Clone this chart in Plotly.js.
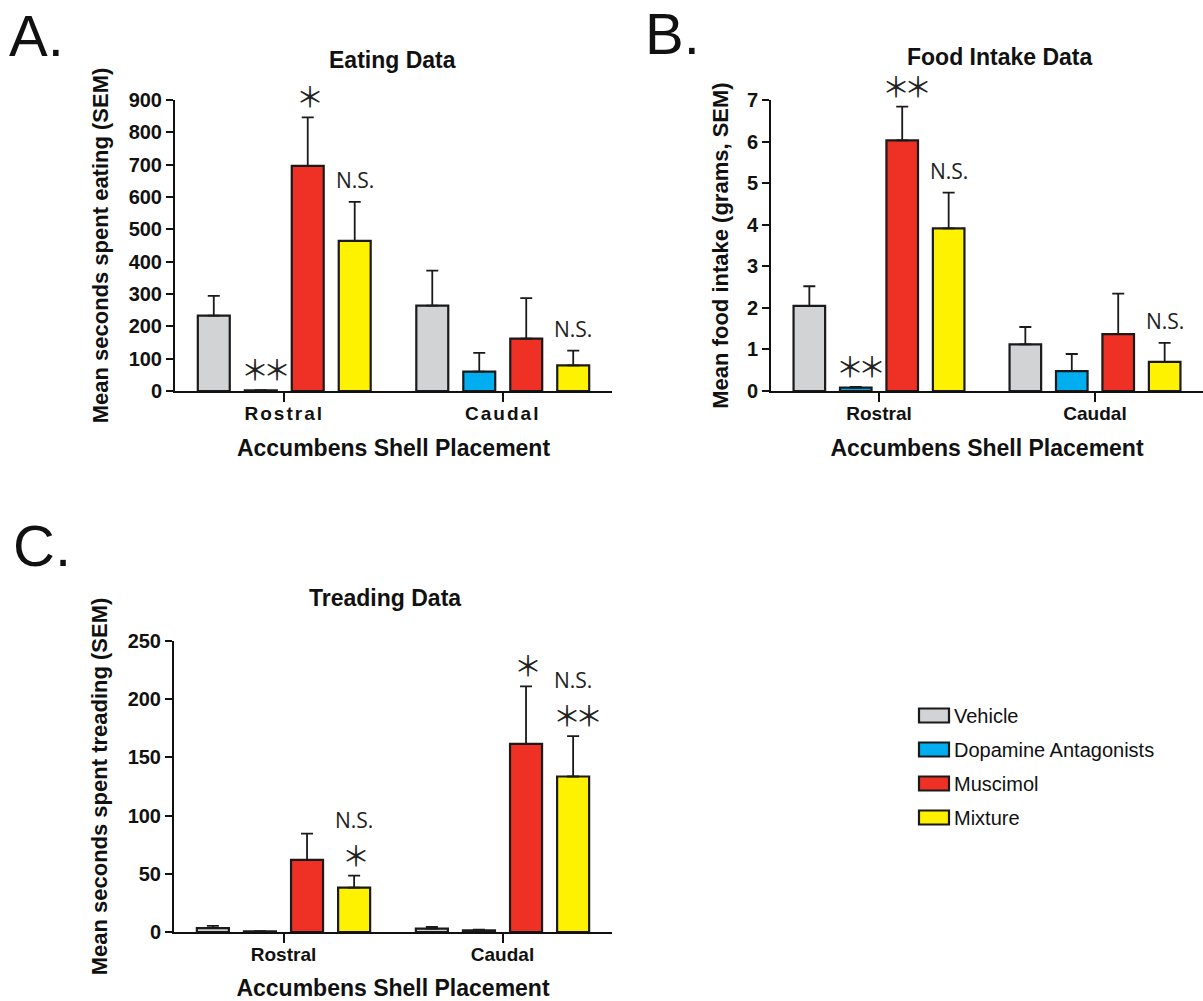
<!DOCTYPE html>
<html>
<head>
<meta charset="utf-8">
<script src="https://cdn.plot.ly/plotly-3.0.1.min.js"></script>
<style>
  html, body { margin: 0; padding: 0; background: #fff; }
  #chart { width: 1203px; height: 1001px; }
  .xtick text { letter-spacing: 2px; }
</style>
</head>
<body>
<div id="chart"></div>
<script>
// ---------------- DATA ----------------
const categories = ['Rostral', 'Caudal'];
const seriesNames = ['Vehicle', 'Dopamine Antagonists', 'Muscimol', 'Mixture'];

// Panel A: Eating Data (mean seconds, SEM)
const eatVehicle = [233, 264];
const eatVehicleSem = [61, 108];
const eatDopamine = [2, 60];
const eatDopamineSem = [1, 58];
const eatMuscimol = [696, 162];
const eatMuscimolSem = [150, 125];
const eatMixture = [464, 79];
const eatMixtureSem = [121, 46];

// Panel B: Food Intake Data (grams, SEM)
const foodVehicle = [2.05, 1.12];
const foodVehicleSem = [0.47, 0.42];
const foodDopamine = [0.08, 0.48];
const foodDopamineSem = [0.02, 0.41];
const foodMuscimol = [6.03, 1.37];
const foodMuscimolSem = [0.81, 0.97];
const foodMixture = [3.91, 0.70];
const foodMixtureSem = [0.86, 0.46];

// Panel C: Treading Data (mean seconds, SEM)
const treadVehicle = [3.4, 2.9];
const treadVehicleSem = [1.8, 1.4];
const treadDopamine = [0.6, 1.4];
const treadDopamineSem = [0.2, 0.6];
const treadMuscimol = [61.9, 161.7];
const treadMuscimolSem = [22.7, 49.3];
const treadMixture = [38.1, 133.6];
const treadMixtureSem = [10.4, 34.7];

// Significance labels: [category index, series index, text lines (top to bottom)]
const eatLabels = [[0, 1, ['**']], [0, 2, ['*']], [0, 3, ['N.S.']], [1, 3, ['N.S.']]];
const foodLabels = [[0, 1, ['**']], [0, 2, ['**']], [0, 3, ['N.S.']], [1, 3, ['N.S.']]];
const treadLabels = [[0, 3, ['N.S.', '*']], [1, 2, ['*']], [1, 3, ['N.S.', '**']]];

const yTicksA = [0, 100, 200, 300, 400, 500, 600, 700, 800, 900];
const yTicksB = [0, 1, 2, 3, 4, 5, 6, 7];
const yTicksC = [0, 50, 100, 150, 200, 250];

// ---------------- STYLE ----------------
const colors = ['#D1D3D4', '#00AEEF', '#EE3124', '#FFF200'];
const ARIAL = 'Arial, "Liberation Sans", sans-serif';
const BARGAP = 0.14;
const nSeries = seriesNames.length;
const slot = (1 - BARGAP) / nSeries;
const offsetOf = (s) => (s - (nSeries - 1) / 2) * slot;

const panels = [
  { means: [eatVehicle, eatDopamine, eatMuscimol, eatMixture],
    sems: [eatVehicleSem, eatDopamineSem, eatMuscimolSem, eatMixtureSem],
    labels: eatLabels, xa: 'x', ya: 'y' },
  { means: [foodVehicle, foodDopamine, foodMuscimol, foodMixture],
    sems: [foodVehicleSem, foodDopamineSem, foodMuscimolSem, foodMixtureSem],
    labels: foodLabels, xa: 'x2', ya: 'y2' },
  { means: [treadVehicle, treadDopamine, treadMuscimol, treadMixture],
    sems: [treadVehicleSem, treadDopamineSem, treadMuscimolSem, treadMixtureSem],
    labels: treadLabels, xa: 'x3', ya: 'y3' }
];

// star glyph: thin six-armed asterisk
const starText = (t) => t.replace(/\*/g, '＊');
const STAR_FONT = { family: '"Noto Sans CJK JP", sans-serif', size: 28, color: '#222' };
const NS_FONT = { family: '"Open Sans", sans-serif', size: 21, color: '#222' };
const STAR_SHIFT = 21;
const NS_SHIFT = 22;
const STACK_GAP = 35;

const traces = [];
const annotations = [];

panels.forEach((p, pi) => {
  p.means.forEach((vals, s) => {
    traces.push({
      type: 'bar',
      x: categories,
      y: vals,
      name: seriesNames[s],
      legendgroup: seriesNames[s],
      showlegend: pi === 0,
      xaxis: p.xa,
      yaxis: p.ya,
      marker: { color: colors[s], line: { color: '#1a1a1a', width: 2.2 } },
      error_y: {
        type: 'data', symmetric: false,
        array: p.sems[s],
        arrayminus: p.sems[s].map(() => 0),
        color: '#1a1a1a', thickness: 1.8, width: 6
      },
      hoverinfo: 'skip'
    });
  });
  p.labels.forEach(([c, s, lines]) => {
    const top = p.means[s][c] + p.sems[s][c];
    // lowest line sits just above the error bar; any upper line is stacked above it
    let shift = null;
    for (let li = lines.length - 1; li >= 0; li--) {
      const txt = lines[li];
      const isStar = txt.indexOf('*') >= 0;
      shift = (shift === null) ? (isStar ? STAR_SHIFT : NS_SHIFT) : shift + STACK_GAP;
      annotations.push({
        xref: p.xa, yref: p.ya, x: c + offsetOf(s), y: top,
        showarrow: false, xanchor: 'center', yanchor: 'middle',
        text: isStar ? '<span style="letter-spacing:-6px">' + starText(txt) + '</span>' : txt,
        xshift: isStar && txt.length > 1 ? 3 : 0,
        yshift: shift,
        font: isStar ? STAR_FONT : NS_FONT
      });
    }
  });
});

// Subplot titles and panel letters
const titleFont = { family: ARIAL, size: 23, color: '#111', weight: 'bold' };
annotations.push(
  { xref: 'paper', yref: 'paper', x: 392 / 1203, y: 1 - 60 / 1001, text: 'Eating Data', showarrow: false, xanchor: 'center', yanchor: 'middle', font: titleFont },
  { xref: 'paper', yref: 'paper', x: 1000 / 1203, y: 1 - 57 / 1001, text: 'Food Intake Data', showarrow: false, xanchor: 'center', yanchor: 'middle', font: titleFont },
  { xref: 'paper', yref: 'paper', x: 385 / 1203, y: 1 - 598 / 1001, text: 'Treading Data', showarrow: false, xanchor: 'center', yanchor: 'middle', font: titleFont }
);
const letterFont = { family: ARIAL, size: 58, color: '#111' };
annotations.push(
  { xref: 'paper', yref: 'paper', x: 8 / 1203, y: 1 - 2 / 1001, text: 'A.', showarrow: false, xanchor: 'left', yanchor: 'top', borderpad: 0, font: letterFont },
  { xref: 'paper', yref: 'paper', x: 644 / 1203, y: 1, text: 'B.', showarrow: false, xanchor: 'left', yanchor: 'top', borderpad: 0, font: letterFont },
  { xref: 'paper', yref: 'paper', x: 12 / 1203, y: 1 - 512 / 1001, text: 'C.', showarrow: false, xanchor: 'left', yanchor: 'top', borderpad: 0, font: letterFont }
);

const tickFont = { family: ARIAL, size: 20, color: '#111', weight: 'bold' };
const axTitleFont = { family: ARIAL, size: 23, color: '#111', weight: 'bold' };

function xAxis(domain, anchor) {
  return {
    domain: domain, anchor: anchor, type: 'category', range: [-0.5, 1.5],
    showline: true, linecolor: '#111', linewidth: 2,
    ticks: 'outside', ticklen: 9, tickwidth: 2, tickcolor: '#111',
    ticklabelstandoff: -5,
    tickfont: { family: ARIAL, size: 19, color: '#111', weight: 'bold' },
    showgrid: false, zeroline: false, fixedrange: true, automargin: false,
    title: { text: 'Accumbens Shell Placement', font: axTitleFont, standoff: 17 }
  };
}
function yAxis(domain, anchor, range, ticks, title, standoff) {
  return {
    domain: domain, anchor: anchor, range: range, tickvals: ticks,
    showline: true, linecolor: '#111', linewidth: 2,
    ticks: 'outside', ticklen: 7, tickwidth: 2, tickcolor: '#111',
    tickfont: tickFont, showgrid: false, zeroline: false, fixedrange: true, automargin: false,
    title: { text: title, font: Object.assign({}, axTitleFont, { size: 22 }), standoff: standoff }
  };
}

const H = 1001, W = 1203;
const layout = {
  width: W, height: H,
  margin: { l: 0, r: 0, t: 0, b: 0, autoexpand: false },
  paper_bgcolor: '#fff', plot_bgcolor: 'rgba(0,0,0,0)',
  barmode: 'group', bargap: BARGAP, bargroupgap: 0.32,
  showlegend: true,
  legend: {
    x: 914 / W, y: 1 - 696 / H, xanchor: 'left', yanchor: 'top',
    font: { family: ARIAL, size: 20, color: '#111' },
    traceorder: 'grouped', tracegroupgap: 5, bgcolor: 'rgba(0,0,0,0)'
  },
  xaxis: xAxis([175 / W, 612 / W], 'y'),
  yaxis: yAxis([1 - 391 / H, 1 - 100 / H], 'x', [0, 900], yTicksA, 'Mean seconds spent eating (SEM)', 14),
  xaxis2: xAxis([771 / W, 1], 'y2'),
  yaxis2: yAxis([1 - 391 / H, 1 - 100 / H], 'x2', [0, 7], yTicksB, 'Mean food intake (grams, SEM)', 12),
  xaxis3: xAxis([174 / W, 612 / W], 'y3'),
  yaxis3: yAxis([1 - 932 / H, 1 - 641 / H], 'x3', [0, 250], yTicksC, 'Mean seconds spent treading (SEM)', 14),
  annotations: annotations
};

Plotly.newPlot('chart', traces, layout, { staticPlot: true, displayModeBar: false }).then(() => {
  document.querySelectorAll('.legend .legendpoints path').forEach(el => {
    el.setAttribute('d', 'M15,7H-15V-7H15Z');
  });
});
</script>
</body>
</html>
